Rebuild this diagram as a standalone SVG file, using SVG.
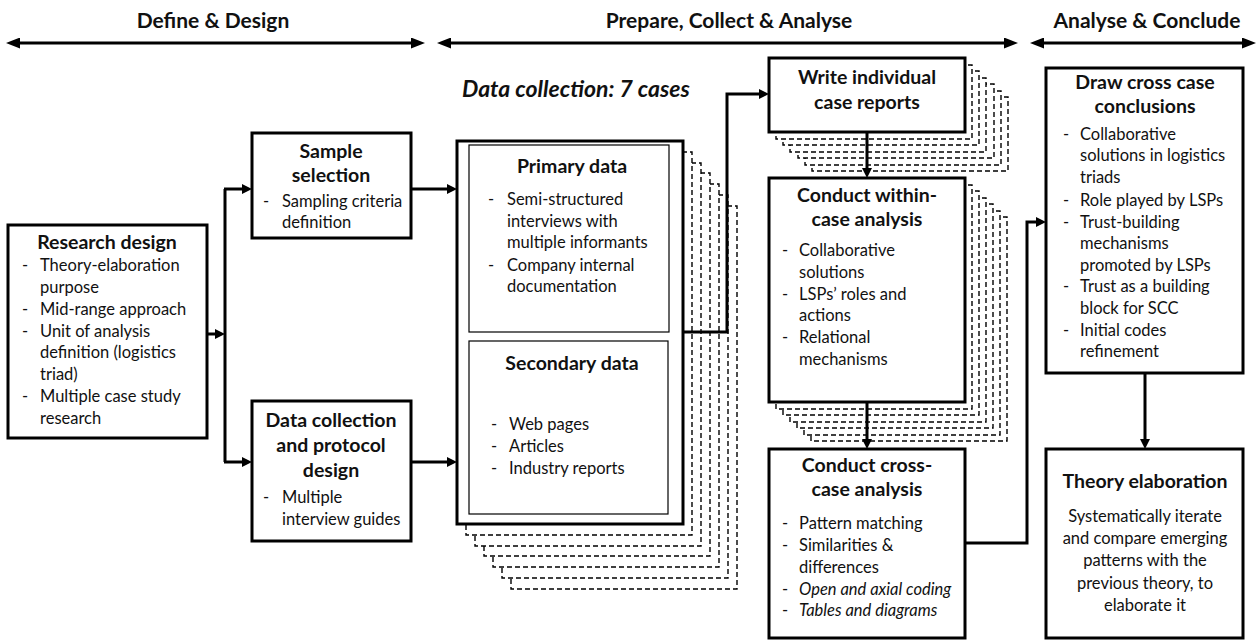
<svg xmlns="http://www.w3.org/2000/svg" width="1260" height="641" viewBox="0 0 1260 641">
<style>
.box{fill:#fff;stroke:#000;stroke-width:3}
.thin{fill:#fff;stroke:#000;stroke-width:1.2}
.dash{fill:#fff;stroke:#000;stroke-width:1.4;stroke-dasharray:5 3}
.conn{fill:none;stroke:#000;stroke-width:3}
text{font-family:Lato,"Liberation Sans",sans-serif;fill:#111;font-size:16.5px}
.h{font-weight:bold;font-size:19.5px;text-anchor:middle}
.hd{font-weight:bold;font-size:21px;text-anchor:middle}
.dc{font-weight:bold;font-style:italic;font-size:23px}
.c{text-anchor:middle}
.i{font-style:italic}
</style>
<defs>
<marker id="ar" viewBox="0 0 10 10" refX="6" refY="5" markerWidth="10" markerHeight="10" markerUnits="userSpaceOnUse" orient="auto-start-reverse">
<path d="M0,0 L10,5 L0,10 z" fill="#000"/>
</marker>
<marker id="arh" viewBox="0 0 14 11" refX="9" refY="5.5" markerWidth="14" markerHeight="11" markerUnits="userSpaceOnUse" orient="auto-start-reverse">
<path d="M0,0 L14,5.5 L0,11 z" fill="#000"/>
</marker>
</defs>

<g id="headers">
<text class="hd" x="213" y="28">Define &amp; Design</text>
<text class="hd" x="729" y="28">Prepare, Collect &amp; Analyse</text>
<text class="hd" x="1147" y="28">Analyse &amp; Conclude</text>
<path class="conn" d="M11,43 H420" marker-start="url(#arh)" marker-end="url(#arh)"/>
<path class="conn" d="M442,43 H1013" marker-start="url(#arh)" marker-end="url(#arh)"/>
<path class="conn" d="M1035,43 H1251" marker-start="url(#arh)" marker-end="url(#arh)"/>
<text class="dc" x="462" y="97">Data collection: 7 cases</text>
</g>

<g id="research-design">
<rect class="box" x="8" y="225" width="199" height="213"/>
<text class="h" x="107" y="249">Research design</text>
<text x="22" y="271">-</text><text x="40" y="271">Theory-elaboration</text>
<text x="40" y="293">purpose</text>
<text x="22" y="315">-</text><text x="40" y="315">Mid-range approach</text>
<text x="22" y="337">-</text><text x="40" y="337">Unit of analysis</text>
<text x="40" y="358">definition (logistics</text>
<text x="40" y="380">triad)</text>
<text x="22" y="402">-</text><text x="40" y="402">Multiple case study</text>
<text x="40" y="424">research</text>
</g>

<g id="sample-selection">
<rect class="box" x="252" y="133" width="159" height="105"/>
<text class="h" x="331" y="158">Sample</text>
<text class="h" x="331" y="182">selection</text>
<text x="263" y="207">-</text><text x="282" y="207">Sampling criteria</text>
<text x="282" y="228">definition</text>
</g>

<g id="protocol-design">
<rect class="box" x="252" y="401" width="159" height="140"/>
<text class="h" x="331" y="427">Data collection</text>
<text class="h" x="331" y="452">and protocol</text>
<text class="h" x="331" y="477">design</text>
<text x="263" y="503">-</text><text x="282" y="503">Multiple</text>
<text x="282" y="525">interview guides</text>
</g>

<g id="data-collection">
<rect class="dash" x="511" y="206" width="226" height="383"/>
<rect class="dash" x="502" y="195" width="226" height="383"/>
<rect class="dash" x="493" y="184" width="226" height="383"/>
<rect class="dash" x="484" y="173" width="226" height="383"/>
<rect class="dash" x="475" y="163" width="226" height="383"/>
<rect class="dash" x="466" y="152" width="226" height="383"/>
<rect class="box" x="457" y="141" width="226" height="383"/>
<rect class="thin" x="469" y="145" width="200" height="187"/>
<rect class="thin" x="469" y="341" width="199" height="173"/>
<text class="h" x="572" y="173">Primary data</text>
<text x="488" y="205">-</text><text x="507" y="205">Semi-structured</text>
<text x="507" y="227">interviews with</text>
<text x="507" y="248">multiple informants</text>
<text x="488" y="271">-</text><text x="507" y="271">Company internal</text>
<text x="507" y="292">documentation</text>
<text class="h" x="572" y="370">Secondary data</text>
<text x="491" y="430">-</text><text x="509" y="430">Web pages</text>
<text x="491" y="452">-</text><text x="509" y="452">Articles</text>
<text x="491" y="474">-</text><text x="509" y="474">Industry reports</text>
</g>

<g id="write-reports">
<rect class="dash" x="812" y="97" width="196" height="74"/>
<rect class="dash" x="805" y="91" width="196" height="74"/>
<rect class="dash" x="798" y="84" width="196" height="74"/>
<rect class="dash" x="790" y="78" width="196" height="74"/>
<rect class="dash" x="783" y="71" width="196" height="74"/>
<rect class="dash" x="776" y="65" width="196" height="74"/>
<rect class="box" x="769" y="58" width="196" height="74"/>
<text class="h" x="867" y="84">Write individual</text>
<text class="h" x="867" y="109">case reports</text>
</g>

<g id="within-case">
<rect class="dash" x="811" y="217" width="196" height="224"/>
<rect class="dash" x="804" y="211" width="196" height="224"/>
<rect class="dash" x="797" y="204" width="196" height="224"/>
<rect class="dash" x="790" y="198" width="196" height="224"/>
<rect class="dash" x="783" y="191" width="196" height="224"/>
<rect class="dash" x="776" y="185" width="196" height="224"/>
<rect class="box" x="769" y="178" width="196" height="224"/>
<text class="h" x="867" y="202">Conduct within-</text>
<text class="h" x="867" y="226">case analysis</text>
<text x="782" y="256">-</text><text x="799" y="256">Collaborative</text>
<text x="799" y="278">solutions</text>
<text x="782" y="300">-</text><text x="799" y="300">LSPs’ roles and</text>
<text x="799" y="321">actions</text>
<text x="782" y="343">-</text><text x="799" y="343">Relational</text>
<text x="799" y="365">mechanisms</text>
</g>

<g id="cross-case">
<rect class="box" x="769" y="449" width="196" height="189"/>
<text class="h" x="867" y="472">Conduct cross-</text>
<text class="h" x="867" y="496">case analysis</text>
<text x="782" y="529">-</text><text x="799" y="529">Pattern matching</text>
<text x="782" y="551">-</text><text x="799" y="551">Similarities &amp;</text>
<text x="799" y="573">differences</text>
<text x="782" y="595">-</text><text class="i" x="799" y="595">Open and axial coding</text>
<text x="782" y="616">-</text><text class="i" x="799" y="616">Tables and diagrams</text>
</g>

<g id="conclusions">
<rect class="box" x="1046" y="68" width="197" height="305"/>
<text class="h" x="1145" y="89">Draw cross case</text>
<text class="h" x="1145" y="113">conclusions</text>
<text x="1063" y="140">-</text><text x="1080" y="140">Collaborative</text>
<text x="1080" y="161">solutions in logistics</text>
<text x="1080" y="183">triads</text>
<text x="1063" y="206">-</text><text x="1080" y="206">Role played by LSPs</text>
<text x="1063" y="228">-</text><text x="1080" y="228">Trust-building</text>
<text x="1080" y="249">mechanisms</text>
<text x="1080" y="271">promoted by LSPs</text>
<text x="1063" y="292">-</text><text x="1080" y="292">Trust as a building</text>
<text x="1080" y="314">block for SCC</text>
<text x="1063" y="336">-</text><text x="1080" y="336">Initial codes</text>
<text x="1080" y="357">refinement</text>
</g>

<g id="theory-elaboration">
<rect class="box" x="1046" y="449" width="197" height="189"/>
<text class="h" x="1145" y="488">Theory elaboration</text>
<text class="c" x="1145" y="522">Systematically iterate</text>
<text class="c" x="1145" y="544">and compare emerging</text>
<text class="c" x="1145" y="566">patterns with the</text>
<text class="c" x="1145" y="589">previous theory, to</text>
<text class="c" x="1145" y="611">elaborate it</text>
</g>

<g id="connectors">
<path class="conn" d="M207,334 H221" marker-end="url(#ar)"/>
<path class="conn" d="M225,189 V462"/>
<path class="conn" d="M224,189 H248" marker-end="url(#ar)"/>
<path class="conn" d="M224,462 H248" marker-end="url(#ar)"/>
<path class="conn" d="M411,189 H453" marker-end="url(#ar)"/>
<path class="conn" d="M411,462 H453" marker-end="url(#ar)"/>
<path class="conn" d="M683,332 H727 V94 H765" marker-end="url(#ar)"/>
<path class="conn" d="M867,132 V174" marker-end="url(#ar)"/>
<path class="conn" d="M867,402 V445" marker-end="url(#ar)"/>
<path class="conn" d="M965,543 H1027 V222 H1042" marker-end="url(#ar)"/>
<path class="conn" d="M1145,373 V445" marker-end="url(#ar)"/>
</g>
</svg>
